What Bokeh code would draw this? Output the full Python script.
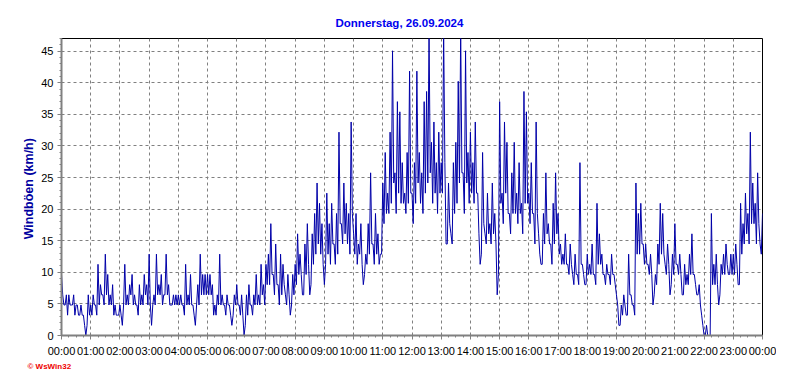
from bokeh.plotting import figure
from bokeh.models import Range1d, FixedTicker, Title
from bokeh.embed import file_html
from bokeh.resources import INLINE

# ---- data: gust readings in instrument steps of 1 mph ----
KMH_PER_STEP = 1.609
SAMPLE_MINUTES = 5
# reading at the start of every 5-minute slot (00:00 ... 24:00)
gust_steps = [
    6, 3, 4, 4, 3, 4, 3, 2, 3, 2, 0, 4,          # 00:00
    3, 4, 3, 7, 5, 4, 8, 6, 4, 5, 3, 2,          # 01:00
    3, 1, 7, 4, 5, 6, 4, 3, 5, 4, 6, 5,          # 02:00
    8, 1, 4, 8, 5, 6, 4, 8, 5, 3, 4, 4,          # 03:00
    4, 4, 3, 7, 4, 6, 3, 1, 5, 8, 6, 6,          # 04:00
    6, 6, 5, 3, 4, 8, 4, 3, 4, 3, 1, 4,          # 05:00
    5, 3, 4, 0, 4, 5, 3, 4, 6, 4, 7, 5,          # 06:00
    7, 8, 11, 6, 9, 5, 8, 7, 4, 6, 2, 6,         # 07:00
    7, 10, 8, 4, 9, 11, 4, 10, 12, 15, 13, 11,   # 08:00
    5, 14, 11, 13, 9, 12, 20, 11, 15, 13, 12, 21,  # 09:00
    10, 12, 9, 11, 5, 8, 11, 16, 9, 12, 10, 8,   # 10:00
    15, 18, 14, 20, 28, 16, 23, 22, 17, 14, 18, 26,  # 11:00
    14, 17, 26, 18, 16, 23, 24, 30, 19, 21, 17, 20,  # 12:00
    17, 30, 9, 15, 10, 17, 19, 25, 30, 16, 28, 18,   # 13:00
    20, 17, 21, 14, 7, 18, 10, 14, 11, 15, 12, 4,    # 14:00
    23, 14, 21, 19, 12, 16, 19, 14, 17, 13, 24, 22,  # 15:00
    14, 17, 12, 21, 10, 7, 12, 16, 11, 9, 13, 16,    # 16:00
    12, 9, 8, 10, 7, 9, 6, 8, 6, 17, 7, 5,       # 17:00
    8, 7, 9, 6, 13, 10, 8, 6, 7, 6, 8, 6,        # 18:00
    4, 1, 3, 4, 2, 8, 4, 3, 15, 12, 13, 9,       # 19:00
    9, 7, 8, 3, 6, 9, 13, 12, 7, 9, 4, 8,        # 20:00
    11, 7, 8, 4, 7, 6, 8, 10, 6, 4, 5, 2,        # 21:00
    0, 1, 0, 12, 7, 8, 3, 7, 8, 9, 6, 8,         # 22:00
    8, 9, 5, 13, 11, 14, 12, 20, 15, 13, 16, 9,  # 23:00
    12,                                          # 24:00
]
# reading in the middle of every 5-minute slot (00:02:30 ... 23:57:30)
gust_steps_mid = [
    4, 3, 2, 3, 3, 2, 3, 2, 2, 1, 1, 2,          # 00:00
    2, 3, 2, 3, 4, 3, 4, 3, 3, 2, 2, 2,          # 01:00
    2, 3, 3, 3, 4, 3, 3, 2, 3, 3, 4, 3,          # 02:00
    3, 3, 3, 4, 4, 3, 4, 4, 3, 3, 3, 3,          # 03:00
    3, 3, 2, 3, 3, 3, 2, 3, 3, 4, 4, 4,          # 04:00
    4, 4, 2, 2, 3, 3, 3, 2, 3, 2, 2, 3,          # 05:00
    3, 2, 2, 1, 2, 3, 2, 3, 3, 3, 4, 3,          # 06:00
    5, 5, 6, 4, 5, 3, 4, 5, 3, 4, 3, 4,          # 07:00
    5, 6, 6, 4, 6, 7, 5, 7, 8, 9, 8, 7,          # 08:00
    7, 8, 7, 9, 7, 8, 11, 9, 10, 9, 8, 12,       # 09:00
    8, 7, 8, 7, 6, 7, 8, 9, 7, 8, 7, 8,          # 10:00
    11, 12, 12, 13, 15, 12, 14, 13, 13, 12, 13, 14,  # 11:00
    11, 13, 15, 13, 12, 14, 15, 16, 13, 14, 12, 14,  # 12:00
    14, 17, 9, 11, 9, 12, 13, 15, 16, 12, 15, 13,    # 13:00
    14, 13, 14, 10, 8, 11, 9, 10, 9, 10, 9, 6,       # 14:00
    13, 11, 14, 12, 10, 12, 12, 11, 12, 10, 13, 13,  # 15:00
    11, 12, 9, 12, 8, 7, 9, 10, 9, 7, 9, 10,     # 16:00
    8, 7, 7, 7, 6, 7, 5, 6, 5, 7, 6, 5,          # 17:00
    6, 6, 6, 5, 7, 7, 6, 5, 6, 5, 6, 5,          # 18:00
    3, 1, 2, 3, 2, 4, 3, 2, 8, 8, 9, 7,          # 19:00
    7, 6, 6, 4, 5, 7, 8, 8, 6, 7, 5, 6,          # 20:00
    7, 6, 6, 4, 5, 5, 6, 6, 5, 4, 3, 1,          # 21:00
    0, 0, 0, 5, 5, 5, 4, 6, 6, 7, 6, 6,          # 22:00
    6, 7, 5, 8, 9, 10, 9, 11, 11, 9, 11, 8,      # 23:00
]
hour_ticks = list(range(0, 25))
tick_labels = ["00:00", "01:00", "02:00", "03:00", "04:00", "05:00", "06:00",
               "07:00", "08:00", "09:00", "10:00", "11:00", "12:00", "13:00",
               "14:00", "15:00", "16:00", "17:00", "18:00", "19:00", "20:00",
               "21:00", "22:00", "23:00", "00:00"]
y_ticks = [0, 5, 10, 15, 20, 25, 30, 35, 40, 45]
title_text = "Donnerstag, 26.09.2024"
y_label = "Windböen  (km/h)"
credit = "© WsWin32"

# interleave the two readings of each slot into one time series
hours, gust_kmh = [], []
for i, v in enumerate(gust_steps):
    hours.append(i * SAMPLE_MINUTES / 60.0)
    gust_kmh.append(v * KMH_PER_STEP)
    if i < len(gust_steps_mid):
        hours.append((i + 0.5) * SAMPLE_MINUTES / 60.0)
        gust_kmh.append(gust_steps_mid[i] * KMH_PER_STEP)

FONT = "Liberation Sans"
GRAY = "#808080"

p = figure(width=776, height=371, output_backend="svg", toolbar_location=None,
           x_range=Range1d(0, 24), y_range=Range1d(0, 47),
           min_border_left=61, min_border_right=14, min_border_top=38,
           min_border_bottom=10, background_fill_color="white",
           border_fill_color="white")

p.line(hours, gust_kmh, line_color="#0000A8", line_width=1)

# axes
p.xaxis.ticker = FixedTicker(ticks=hour_ticks,
                             minor_ticks=[i / 4 for i in range(0, 97)])
p.xaxis.major_label_overrides = {h: l for h, l in zip(hour_ticks, tick_labels)}
p.yaxis.ticker = FixedTicker(ticks=y_ticks, minor_ticks=list(range(0, 48)))
for ax in (p.xaxis[0], p.yaxis[0]):
    ax.axis_line_color = GRAY
    ax.axis_line_width = 2
    ax.major_tick_line_color = GRAY
    ax.minor_tick_line_color = GRAY
    ax.major_tick_in = 0
    ax.major_tick_out = 4
    ax.minor_tick_in = 0
    ax.minor_tick_out = 2
    ax.major_label_text_font = FONT
    ax.major_label_text_font_size = "11px"
    ax.major_label_text_color = "black"
p.xaxis.major_label_standoff = 5
p.yaxis.major_label_standoff = 4
p.yaxis.axis_label = y_label
p.yaxis.axis_label_text_font = FONT
p.yaxis.axis_label_text_font_size = "12.5px"
p.yaxis.axis_label_text_font_style = "bold"
p.yaxis.axis_label_text_color = "#0000A0"
p.yaxis.axis_label_standoff = 2

p.grid.grid_line_color = GRAY
p.grid.grid_line_dash = "3 3"
p.grid.grid_line_width = 1
p.outline_line_color = "black"
p.outline_line_width = 1
p.outline_line_alpha = 1

t = Title(text=title_text, align="left", offset=274, text_font=FONT,
          text_font_size="11.5px", text_font_style="bold",
          text_color="#0000EE", standoff=20)
p.add_layout(t, "above")
c = Title(text=credit, align="left", offset=-34, text_font=FONT,
          text_font_size="8px", text_font_style="bold",
          text_color="#EE0000", standoff=1)
p.add_layout(c, "below")

open("out.html", "w").write(file_html(p, INLINE))
